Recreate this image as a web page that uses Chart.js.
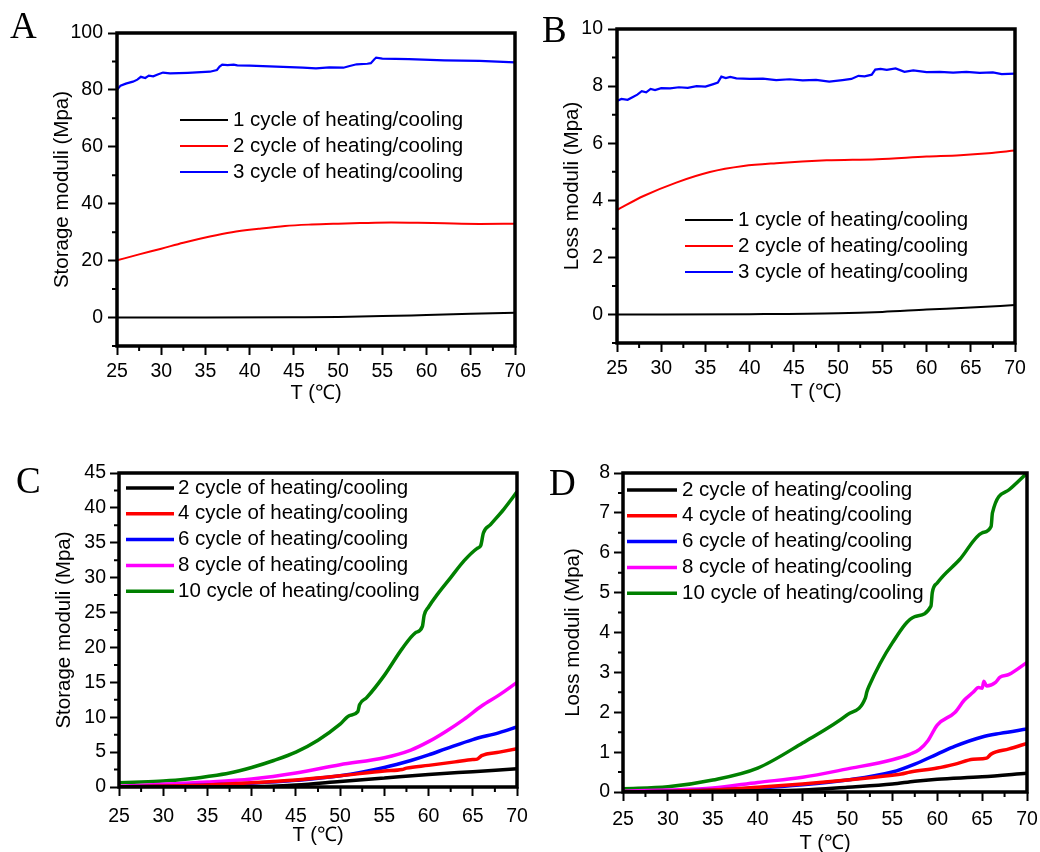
<!DOCTYPE html>
<html><head><meta charset="utf-8">
<script src="https://cdn.jsdelivr.net/npm/chart.js@4"></script>
<style>
html,body{margin:0;padding:0;background:#fff;width:1040px;height:852px;overflow:hidden;position:relative}
canvas{position:absolute}
.lab{position:absolute;font-family:"Liberation Serif","Times New Roman",serif;font-size:37px;line-height:1;color:#000}
</style></head><body>
<canvas id="cA" width="540" height="420" style="left:0;top:0"></canvas>
<canvas id="cB" width="540" height="420" style="left:520px;top:0"></canvas>
<canvas id="cC" width="540" height="420" style="left:0;top:440px"></canvas>
<canvas id="cD" width="540" height="420" style="left:520px;top:440px"></canvas>
<div class="lab" style="left:10px;top:7px">A</div>
<div class="lab" style="left:542px;top:11px">B</div>
<div class="lab" style="left:16px;top:462px">C</div>
<div class="lab" style="left:549px;top:464px">D</div>
<script>
// ---------- Panel A : Storage moduli ----------
const labelsAB = ['1 cycle of heating/cooling','2 cycle of heating/cooling','3 cycle of heating/cooling'];
const tA1 = [25,35,45,50,55,60,65,70];
const vA1 = [0,0,0.1,0.2,0.5,0.9,1.3,1.7];
const tA2 = [25,27.5,30,32.5,35.5,38,41,44,47,50,52.5,56,59,62,66,70];
const vA2 = [20.1,22.2,24.2,26.3,28.5,30.0,31.2,32.2,32.7,33.0,33.2,33.4,33.3,33.1,32.9,33.0];
const tA3 = [25,25.4,26,26.8,27.3,27.7,28.2,28.6,29.1,29.6,30.2,31,33,35.5,36.3,36.6,36.9,37.5,38.2,38.6,40,43,46,47.5,49,50.6,51.2,52.1,53.3,53.7,54.1,54.3,55,58,62,66,70];
const vA3 = [80.0,81.5,82.2,82.9,83.6,84.6,84.2,85.0,84.8,85.4,86.1,85.8,86.0,86.4,87.0,88.2,88.9,88.7,88.9,88.6,88.5,88.2,87.8,87.6,87.9,87.8,88.3,89.0,89.2,89.4,90.8,91.3,91.0,90.8,90.4,90.2,89.7];

// ---------- Panel B : Loss moduli ----------
const tB1 = [25,40,50,55,60,65,70];
const vB1 = [0,0.01,0.04,0.09,0.17,0.24,0.33];
const tB2 = [25,28,31.7,35.5,39.3,43,48.7,54.4,60,63.8,67,70];
const vB2 = [3.66,4.15,4.62,4.99,5.2,5.3,5.4,5.44,5.53,5.58,5.65,5.74];
const tB3 = [25,25.5,26.2,26.8,27.3,27.8,28.3,28.8,29.3,30,31,32,33,34,35,35.9,36.4,36.8,37.3,37.8,38.5,40,41.5,43,44.5,46,47.5,49,50.5,51.5,52.3,53,53.8,54.2,54.8,55.5,56.5,57.5,58.5,60,61.5,63,64.5,66,67.5,68.5,70];
const vB3 = [7.48,7.55,7.52,7.62,7.7,7.82,7.78,7.9,7.86,7.93,7.92,7.96,7.94,8.0,7.98,8.07,8.12,8.33,8.28,8.32,8.27,8.25,8.26,8.21,8.24,8.2,8.22,8.16,8.21,8.25,8.36,8.34,8.4,8.58,8.6,8.57,8.62,8.5,8.55,8.49,8.5,8.47,8.5,8.46,8.48,8.42,8.44];

// ---------- Panel C : Storage moduli, more cycles ----------
const labelsCD = ['2 cycle of heating/cooling','4 cycle of heating/cooling','6 cycle of heating/cooling','8 cycle of heating/cooling','10 cycle of heating/cooling'];
const tC2 = [25,40,45,50,55,60,65,70];
const vC2 = [0,0.05,0.3,0.8,1.3,1.8,2.2,2.6];
const tC4 = [25,35,40,45,50,55,57,57.5,60,63,65,65.5,66,68,70];
const vC4 = [0.05,0.3,0.6,1.0,1.6,2.3,2.5,2.7,3.1,3.6,3.95,4.0,4.5,5.0,5.5];
const tC6 = [25,35,40,45,50,55,58,60,62,65,68,70];
const vC6 = [0.05,0.3,0.55,0.95,1.6,2.8,3.8,4.6,5.5,6.8,7.8,8.6];
const tC8 = [25,35,40,45,50,55,58,60,62,64,66,68,70];
const vC8 = [0.1,0.7,1.15,2.0,3.2,4.2,5.3,6.5,8.0,9.7,11.6,13.2,15.0];
const tC10 = [25,27.5,30,32.5,35,37.5,40,42.5,45,47.5,50,51,52,52.2,53,55,57,58.5,59.3,59.5,60,61,62.5,64,65.5,65.9,66.2,67,68.5,70];
const vC10 = [0.6,0.7,0.85,1.1,1.5,2.0,2.8,3.8,5.0,6.7,9.0,10.2,10.8,11.8,12.8,16.0,19.8,22.1,23.0,24.6,25.8,27.6,30.0,32.4,34.2,34.6,36.4,37.6,39.8,42.3];

// ---------- Panel D : Loss moduli, more cycles ----------
const tD2 = [25,40,45,50,55,57.5,60,65,70];
const vD2 = [0,0.03,0.05,0.12,0.2,0.27,0.32,0.38,0.47];
const tD4 = [25,35,40,45,50,55,56,57,60,62,64,65.5,66,68,70];
const vD4 = [0,0.05,0.12,0.2,0.3,0.42,0.45,0.5,0.6,0.7,0.82,0.85,0.95,1.08,1.22];
const tD6 = [25,35,40,45,50,55,57.5,60,62,65,67,70];
const vD6 = [0,0.05,0.1,0.18,0.3,0.5,0.7,0.95,1.15,1.38,1.47,1.58];
const tD8 = [25,30,35,40,45,50,55,57,58,59,60,62,63,64,64.6,65,65.2,65.5,66.5,67,68,70];
const vD8 = [0.02,0.05,0.1,0.24,0.37,0.58,0.81,0.95,1.06,1.3,1.68,2.0,2.3,2.5,2.62,2.6,2.78,2.66,2.75,2.88,2.95,3.25];
const tD10 = [25,30,35,40,45,50,52,52.15,52.4,55,57.5,59.3,59.45,60,62.5,65,66,66.15,68,70];
const vD10 = [0.08,0.13,0.3,0.6,1.23,1.94,2.36,2.5,2.65,3.74,4.4,4.66,5.0,5.24,5.83,6.5,6.66,7.0,7.58,8.0];

const FONT = "'Liberation Sans', Arial, Helvetica, sans-serif";
const BLACK='#000000', RED='#ff0000', BLUE='#0000ff', MAG='#ff00ff', GREEN='#008000';

function ds(t, v, label, color, w, smooth){
  return {label, data: t.map((x,i)=>({x, y:v[i]})), borderColor:color, backgroundColor:color,
    borderWidth:w, pointRadius:0, fill:false, tension:0,
    cubicInterpolationMode: smooth ? 'monotone' : 'default'};
}

const framePlugin = {
  id:'frame',
  afterDatasetsDraw(chart){
    const a = chart.chartArea, ctx = chart.ctx;
    ctx.save(); ctx.strokeStyle='#000'; ctx.lineWidth=3.5;
    ctx.strokeRect(a.left, a.top, a.right-a.left, a.bottom-a.top);
    // minor ticks (unlabelled scale ticks), shorter than the major ones
    ctx.lineWidth = 2;
    const MINOR = 5;
    ctx.beginPath();
    chart.scales.x.ticks.forEach(t=>{
      if (t.label === '') { const px = chart.scales.x.getPixelForValue(t.value); ctx.moveTo(px, a.bottom); ctx.lineTo(px, a.bottom + MINOR); }
    });
    chart.scales.y.ticks.forEach(t=>{
      if (t.label === '') { const py = chart.scales.y.getPixelForValue(t.value); ctx.moveTo(a.left, py); ctx.lineTo(a.left - MINOR, py); }
    });
    ctx.stroke();
    ctx.restore();
  }
};
const legendPlugin = {
  id:'customLegend',
  afterDraw(chart, args, o){
    const ctx = chart.ctx; ctx.save();
    ctx.font = o.size + 'px ' + FONT; ctx.textBaseline='middle'; ctx.fillStyle='#000';
    chart.data.datasets.forEach((d,i)=>{
      const y = o.y + i*o.rowH;
      ctx.strokeStyle=d.borderColor; ctx.lineWidth=d.borderWidth;
      ctx.beginPath(); ctx.moveTo(o.x1,y); ctx.lineTo(o.x2,y); ctx.stroke();
      ctx.fillText(d.label, o.tx, y);
    });
    ctx.restore();
  }
};

const majorTickColor = c => (c.tick && c.tick.label === '' ? 'rgba(0,0,0,0)' : '#000');

function makeChart(id, c){
  return new Chart(document.getElementById(id), {
    type:'line',
    data:{datasets:c.datasets},
    options:{
      responsive:false, animation:false, devicePixelRatio:1,
      layout:{padding:{left:0, top:c.padTop, right:c.padRight, bottom:0}},
      plugins:{legend:{display:false}, tooltip:{enabled:false}, customLegend:c.legend},
      scales:{
        x:{type:'linear', min:25, max:70,
          afterFit:s=>{s.height=c.xH;},
          ticks:{stepSize:2.5, autoSkip:false, maxRotation:0, minRotation:0, padding:c.xPad, color:'#000',
            font:{family:FONT, size:19.5}, callback:v=>(v%5===0 ? String(v) : '')},
          grid:{drawOnChartArea:false, drawTicks:true, tickLength:9, tickWidth:2, tickColor:majorTickColor},
          border:{display:false},
          title:{display:true, text:'T (℃)', color:'#000', font:{family:FONT, size:20}, padding:{top:0, bottom:c.xTitlePad}}
        },
        y:{type:'linear', min:c.yMin, max:c.yMax,
          afterFit:s=>{s.width=c.yW;},
          ticks:{stepSize:c.yStep, autoSkip:false, padding:c.yPad, color:'#000',
            font:{family:FONT, size:19.5}, callback:v=>(Math.abs(v % c.yLabStep) < 1e-9 ? String(v) : '')},
          grid:{drawOnChartArea:false, drawTicks:true, tickLength:9, tickWidth:2, tickColor:majorTickColor},
          border:{display:false},
          title:{display:true, text:c.yTitle, color:'#000', font:{family:FONT, size:20.5}, padding:{top:c.yTitlePad, bottom:0}}
        }
      }
    },
    plugins:[framePlugin, legendPlugin]
  });
}

makeChart('cA', {
  datasets:[ds(tA1,vA1,labelsAB[0],BLACK,2,true), ds(tA2,vA2,labelsAB[1],RED,2,true), ds(tA3,vA3,labelsAB[2],BLUE,2.2,false)],
  padTop:33, padRight:25, yW:117, xH:74, xPad:5, yPad:5, xTitlePad:15, yTitlePad:50,
  yMin:-10, yMax:100, yStep:10, yLabStep:20, yTitle:'Storage moduli (Mpa)',
  legend:{x1:180, x2:228, tx:233, y:120, rowH:26, size:20.5}
});
makeChart('cB', {
  datasets:[ds(tB1,vB1,labelsAB[0],BLACK,2,true), ds(tB2,vB2,labelsAB[1],RED,2,true), ds(tB3,vB3,labelsAB[2],BLUE,2.2,false)],
  padTop:29, padRight:45, yW:97, xH:77, xPad:5, yPad:5, xTitlePad:16, yTitlePad:40,
  yMin:-1, yMax:10, yStep:1, yLabStep:2, yTitle:'Loss moduli (Mpa)',
  legend:{x1:165, x2:213, tx:218, y:220, rowH:26, size:20.5}
});
makeChart('cC', {
  datasets:[ds(tC2,vC2,labelsCD[0],BLACK,3.5,true), ds(tC4,vC4,labelsCD[1],RED,3.5,true), ds(tC6,vC6,labelsCD[2],BLUE,3.5,true), ds(tC8,vC8,labelsCD[3],MAG,3.5,true), ds(tC10,vC10,labelsCD[4],GREEN,3.5,true)],
  padTop:33, padRight:23, yW:119, xH:73, xPad:9, yPad:4, xTitlePad:13, yTitlePad:52,
  yMin:0, yMax:45, yStep:2.5, yLabStep:5, yTitle:'Storage moduli (Mpa)',
  legend:{x1:126, x2:174, tx:178, y:48, rowH:25.8, size:20.5}
});
makeChart('cD', {
  datasets:[ds(tD2,vD2,labelsCD[0],BLACK,3.5,true), ds(tD4,vD4,labelsCD[1],RED,3.5,true), ds(tD6,vD6,labelsCD[2],BLUE,3.5,true), ds(tD8,vD8,labelsCD[3],MAG,3.5,true), ds(tD10,vD10,labelsCD[4],GREEN,3.5,true)],
  padTop:33, padRight:33, yW:103, xH:68, xPad:7, yPad:4, xTitlePad:5, yTitlePad:41,
  yMin:0, yMax:8, yStep:0.5, yLabStep:1, yTitle:'Loss moduli (Mpa)',
  legend:{x1:107, x2:157, tx:162, y:50, rowH:25.8, size:20.5}
});
</script>
</body></html>
